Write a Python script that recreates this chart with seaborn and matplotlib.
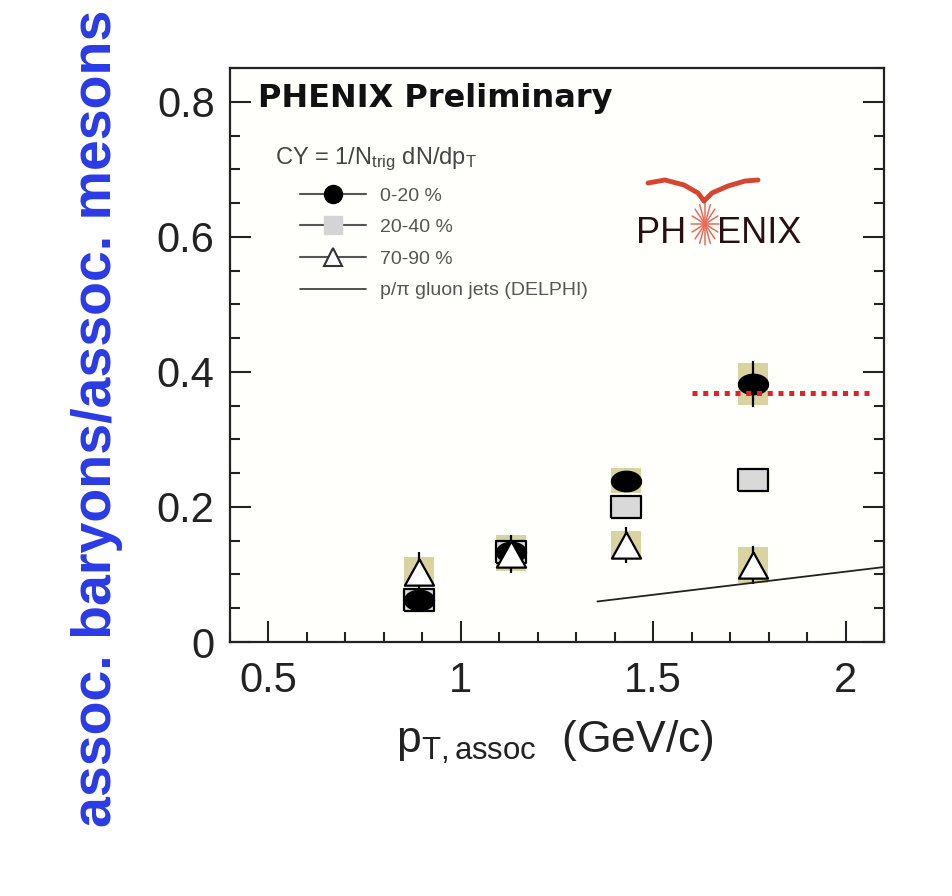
import numpy as np
import pandas as pd
import matplotlib
matplotlib.use("Agg")
import matplotlib.pyplot as plt
import seaborn as sns
from matplotlib.lines import Line2D
from matplotlib.ticker import MultipleLocator, FixedLocator, FixedFormatter
from matplotlib import font_manager

# ---------------- data ----------------
pt_assoc = [0.89, 1.13, 1.43, 1.76]

cy_0_20 = [0.062, 0.134, 0.239, 0.382]
cy_0_20_err = [0.012, 0.015, 0.012, 0.034]
cy_0_20_sys = [0.0, 0.025, 0.018, 0.031]

cy_20_40 = [0.062, 0.134, 0.200, 0.240]
cy_20_40_err = [0.012, 0.015, 0.016, 0.017]

cy_70_90 = [0.104, 0.130, 0.144, 0.114]
cy_70_90_err = [0.030, 0.028, 0.027, 0.028]
cy_70_90_sys = [0.022, 0.025, 0.021, 0.027]

delphi_pt = [1.355, 2.10]
delphi_ratio = [0.060, 0.111]

ref_pt = [1.60, 2.07]
ref_ratio = [0.369, 0.369]

centrality_labels = ["0-20 %", "20-40 %", "70-90 %"]
delphi_label = "p/\u03c0 gluon jets (DELPHI)"
x_ticks = [0.5, 1.0, 1.5, 2.0]
x_tick_labels = ["0.5", "1", "1.5", "2"]
y_ticks = [0.0, 0.2, 0.4, 0.6, 0.8]
y_tick_labels = ["0", "0.2", "0.4", "0.6", "0.8"]

# ---------------- style ----------------
sns.set_style("ticks")
plt.rcParams["font.family"] = ["Liberation Sans", "DejaVu Sans"]
plt.rcParams["mathtext.fontset"] = "custom"
plt.rcParams["mathtext.rm"] = "Liberation Sans"
plt.rcParams["mathtext.it"] = "Liberation Sans:italic"
plt.rcParams["mathtext.bf"] = "Liberation Sans:bold"

W, H = 953, 896
fig = plt.figure(figsize=(W / 100, H / 100), dpi=100, facecolor="white")
ax_l, ax_r, ax_t, ax_b = 230, 884, 68, 642
ax = fig.add_axes([ax_l / W, 1 - ax_b / H, (ax_r - ax_l) / W, (ax_b - ax_t) / H])
ax.set_facecolor("#fffffb")

def afx(px):
    return (px - ax_l) / (ax_r - ax_l)

def afy(py):
    return (ax_b - py) / (ax_b - ax_t)

sys_color = "#d8d39f"
box_w = 0.078

# systematic boxes
for yv, sv in [(cy_0_20, cy_0_20_sys), (cy_70_90, cy_70_90_sys)]:
    yv = np.asarray(yv); sv = np.asarray(sv)
    ax.bar(pt_assoc, 2 * sv, bottom=yv - sv, width=box_w, color=sys_color,
           edgecolor="none", zorder=1)

# statistical error bars
for yv, ev in [(cy_20_40, cy_20_40_err), (cy_0_20, cy_0_20_err), (cy_70_90, cy_70_90_err)]:
    ax.errorbar(pt_assoc, yv, yerr=ev, fmt="none", ecolor="black", elinewidth=1.6,
                capsize=0, zorder=2)

# DELPHI gluon jet line
sns.lineplot(x=delphi_pt, y=delphi_ratio, color="#222222", linewidth=1.3, ax=ax,
             zorder=2, legend=False)

# custom (slightly wide) marker shapes mimicking the reference
theta = np.linspace(0, 2 * np.pi, 41)
ellipse_m = list(zip(np.cos(theta), 0.68 * np.sin(theta)))
rect_m = [(-1, -0.73), (1, -0.73), (1, 0.73), (-1, 0.73), (-1, -0.73)]
tri_m = [(0, 0.9), (-1, -0.9), (1, -0.9), (0, 0.9)]

df = pd.DataFrame({
    "pt": pt_assoc * 3,
    "cy": cy_20_40 + cy_0_20 + cy_70_90,
    "cent": [centrality_labels[1]] * 4 + [centrality_labels[0]] * 4 + [centrality_labels[2]] * 4,
})

sns.scatterplot(data=df[df.cent == centrality_labels[1]], x="pt", y="cy", marker=rect_m,
                s=21.6 ** 2, color="#d9d9d9", edgecolor="black", linewidth=1.6,
                ax=ax, zorder=3, legend=False)
sns.scatterplot(data=df[df.cent == centrality_labels[0]], x="pt", y="cy", marker=ellipse_m,
                s=21.6 ** 2, color="black", edgecolor="black", linewidth=1.0,
                ax=ax, zorder=4, legend=False)
sns.scatterplot(data=df[df.cent == centrality_labels[2]], x="pt", y="cy", marker=tri_m,
                s=21.0 ** 2, color="white", edgecolor="black", linewidth=1.6,
                ax=ax, zorder=5, legend=False)

# red dotted reference line
ax.plot(ref_pt, ref_ratio, color="#e3212b", linewidth=3.6, linestyle=(0, (1.0, 1.15)),
        zorder=6)

# ---------------- axes ----------------
ax.set_xlim(0.4, 2.1)
ax.set_ylim(0.0, 0.85)
ax.xaxis.set_major_locator(FixedLocator(x_ticks))
ax.xaxis.set_major_formatter(FixedFormatter(x_tick_labels))
ax.yaxis.set_major_locator(FixedLocator(y_ticks))
ax.yaxis.set_major_formatter(FixedFormatter(y_tick_labels))
ax.xaxis.set_minor_locator(MultipleLocator(0.1))
ax.yaxis.set_minor_locator(MultipleLocator(0.05))
ax.tick_params(which="both", direction="in", right=True, top=False, width=1.5,
               color="#222222")
ax.tick_params(which="major", length=15)
ax.tick_params(which="minor", length=7)
ax.tick_params(axis="x", which="major", labelsize=30, pad=14, labelcolor="#222222")
ax.tick_params(axis="y", which="major", labelsize=30, pad=11, labelcolor="#222222")
for sp in ax.spines.values():
    sp.set_linewidth(1.6)
    sp.set_color("#222222")

ax.set_xlabel(r"p$_{\mathrm{T,assoc}}$  (GeV/c)", fontsize=32, color="#222222")
ax.xaxis.set_label_coords(afx(555), afy(742))
ax.xaxis.label.set_va("center")

ax.set_ylabel("assoc. baryons/assoc. mesons", fontsize=40, fontweight="bold",
              color="#2a3be6")
ax.yaxis.set_label_coords(afx(97), afy(418))
ax.yaxis.label.set_va("center")

# title inside
ax.text(afx(258), afy(107), "PHENIX Preliminary", transform=ax.transAxes,
        fontsize=23, fontweight="bold", family="DejaVu Sans", color="#111111",
        va="baseline", ha="left")

# legend title
ax.text(afx(275), afy(159), r"CY = 1/N$_{\mathrm{trig}}$ dN/dp$_{\mathrm{T}}$",
        transform=ax.transAxes, fontsize=17, color="#444444", va="center", ha="left")

handles = [
    Line2D([0], [0], color="#555555", lw=1.5, marker="o", ms=13, mfc="black", mec="black"),
    Line2D([0], [0], color="#555555", lw=1.5, marker="s", ms=13, mfc="#d4d4d4", mec="#d4d4d4"),
    Line2D([0], [0], color="#555555", lw=1.5, marker="^", ms=13, mfc="white", mec="#333333", mew=1.5),
    Line2D([0], [0], color="#333333", lw=1.2),
]
ax.legend(handles, centrality_labels + [delphi_label], loc="upper left",
          bbox_to_anchor=(afx(300), afy(187)), frameon=False, fontsize=14,
          handlelength=3.4, handletextpad=0.7, labelspacing=0.72, borderpad=0,
          borderaxespad=0, labelcolor="#555555")

# PHENIX logo
try:
    font_manager.findfont("Liberation Sans Narrow", fallback_to_default=False)
    logo_family, logo_size = "Liberation Sans Narrow", 33
except Exception:
    logo_family, logo_size = "Liberation Sans", 26
logo_color = "#2a0f12"
ax.text(afx(636), afy(243), "PH", transform=ax.transAxes, fontsize=logo_size,
        family=logo_family, color=logo_color, va="baseline", ha="left")
ax.text(afx(717), afy(243), "ENIX", transform=ax.transAxes, fontsize=logo_size,
        family=logo_family, color=logo_color, va="baseline", ha="left")
cx, cy0 = 705, 224
for ang in np.arange(0, 180, 22.5):
    a = np.deg2rad(ang)
    dx, dy = 14 * np.cos(a), 21 * np.sin(a)
    ax.plot([afx(cx - dx), afx(cx + dx)], [afy(cy0 - dy), afy(cy0 + dy)],
            transform=ax.transAxes, color="#e86a5a", lw=1.1, clip_on=False, zorder=7)
wing_l = [(648, 183), (665, 180), (684, 185), (698, 193), (704, 201)]
wing_r = [(704, 201), (712, 193), (728, 186), (745, 181), (758, 180)]
for wing in (wing_l, wing_r):
    ax.plot([afx(p[0]) for p in wing], [afy(p[1]) for p in wing], transform=ax.transAxes,
            color="#d8452e", lw=3.5, solid_capstyle="round", clip_on=False, zorder=7)

fig.savefig("out.png", dpi=100, facecolor="white")
